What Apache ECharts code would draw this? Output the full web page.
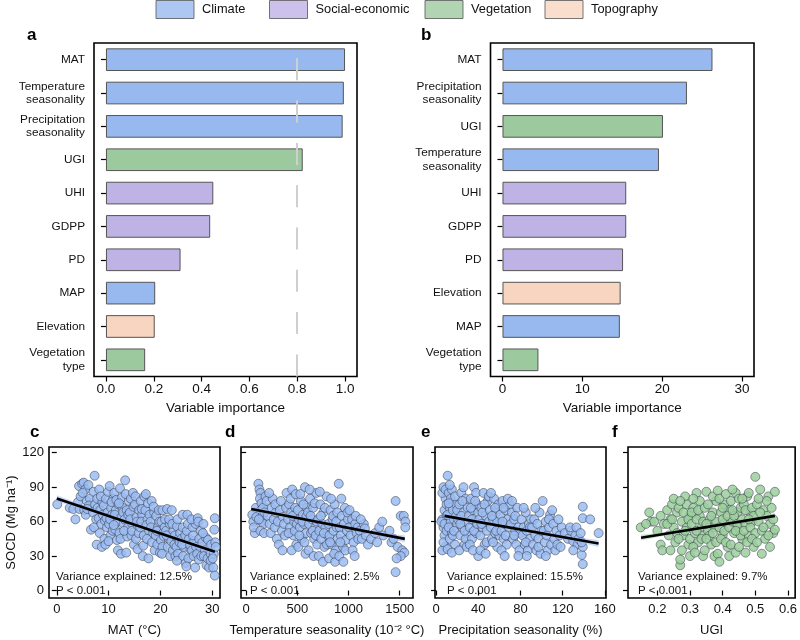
<!DOCTYPE html>
<html><head><meta charset="utf-8">
<script src="https://cdn.jsdelivr.net/npm/echarts@6/dist/echarts.min.js"></script>
<style>html,body{margin:0;padding:0;background:#fff}#c{width:800px;height:640px}</style>
</head><body><div id="c"></div>
<script>
// ---------- data ----------
const groups = ['Climate','Social-economic','Vegetation','Topography'];

const aLabels = ['MAT','Temperature\nseasonality','Precipitation\nseasonality','UGI','UHI','GDPP','PD','MAP','Elevation','Vegetation\ntype'];
const aValues = [1.0,0.995,0.99,0.823,0.449,0.436,0.312,0.206,0.204,0.164];
const aGroups = ['Climate','Climate','Climate','Vegetation','Social-economic','Social-economic','Social-economic','Climate','Topography','Vegetation'];
const aThreshold = 0.8;
const aTicks = [0,0.2,0.4,0.6,0.8,1.0];

const bLabels = ['MAT','Precipitation\nseasonality','UGI','Temperature\nseasonality','UHI','GDPP','PD','Elevation','MAP','Vegetation\ntype'];
const bValues = [26.3,23.1,20.1,19.6,15.5,15.5,15.1,14.8,14.7,4.5];
const bGroups = ['Climate','Climate','Vegetation','Climate','Social-economic','Social-economic','Social-economic','Topography','Climate','Vegetation'];
const bTicks = [0,10,20,30];

const socdTicks = [0,30,60,90,120];
const cTicks = [0,10,20,30];
const dTicks = [0,500,1000,1500];
const eTicks = [0,40,80,120,160];
const fTicks = [0.2,0.3,0.4,0.5,0.6];

const cPoints = [[0.1,75],[2.5,72],[3.2,71],[3.6,62],[4.1,77],[4.3,91],[4.6,82],[4.9,93],[4.4,71],
[5.2,94],[5.5,88],[5.0,85],[5.8,78],[5.3,70],[6.1,92],[6.4,80],[6.2,74],[5.6,66],[6.6,53],[5.9,71],
[7.3,100],[7.1,86],[7.4,75],[7.0,68],[7.6,62],[7.8,80],[7.2,55],[7.7,40],[7.9,72],
[8.2,88],[8.4,70],[8.1,63],[8.6,58],[8.8,77],[8.3,50],[8.7,38],[8.9,66],[8.5,82],
[9.1,74],[9.3,61],[9.5,80],[9.7,55],[9.2,45],[9.8,68],[9.4,40],[9.9,86],[9.6,63],
[10.2,91],[10.5,72],[10.1,58],[10.7,66],[10.4,48],[10.9,80],[10.3,62],[10.8,52],[10.6,77],[10.0,43],
[11.1,85],[11.4,70],[11.7,60],[11.3,53],[11.9,75],[11.6,44],[11.2,66],[11.8,35],[11.5,79],[11.0,57],
[12.2,89],[12.5,64],[12.7,72],[12.1,50],[12.9,58],[12.4,32],[12.6,81],[12.3,45],[12.8,68],[12.0,76],
[13.2,96],[13.5,70],[13.7,55],[13.1,62],[13.9,78],[13.4,33],[13.6,47],[13.3,84],[13.8,66],[13.0,52],
[14.3,80],[14.1,68],[14.6,58],[14.8,73],[14.4,48],[14.9,40],[14.2,62],[14.7,85],[14.5,52],
[15.1,75],[15.4,64],[15.7,56],[15.3,45],[15.9,70],[15.6,36],[15.2,82],[15.8,50],[15.5,60],
[16.2,78],[16.5,66],[16.1,55],[16.8,48],[16.4,71],[16.7,39],[16.3,60],[16.9,82],[16.6,30],
[17.2,84],[17.5,62],[17.1,70],[17.8,52],[17.4,45],[17.7,28],[17.3,57],[17.9,66],[17.6,76],
[18.3,78],[18.1,60],[18.6,50],[18.8,68],[18.4,42],[18.9,35],[18.2,55],[18.7,73],
[19.2,65],[19.5,55],[19.1,48],[19.8,60],[19.4,40],[19.7,70],[19.3,52],[19.9,33],
[20.2,60],[20.5,50],[20.1,44],[20.8,55],[20.4,38],[20.7,47],[20.3,32],[20.9,62],[20.4,70],
[21.3,71],[21.1,52],[21.6,45],[21.8,58],[21.4,38],[21.9,30],[21.2,48],[21.7,62],
[22.2,70],[22.5,52],[22.1,43],[22.8,48],[22.4,35],[22.7,40],[22.3,58],[22.9,30],
[23.2,56],[23.5,45],[23.1,38],[23.8,50],[23.4,32],[23.7,42],[23.3,62],[23.2,26],
[24.3,55],[24.1,45],[24.6,38],[24.8,48],[24.4,30],[24.9,24],[24.2,40],[24.3,66],
[25.2,66],[25.5,45],[25.1,52],[25.8,36],[25.4,28],[25.7,40],[25.3,58],[25.0,21],
[26.2,55],[26.5,43],[26.1,35],[26.8,58],[26.4,30],[26.7,20],[26.3,48],[26.9,38],[26.0,62],
[27.2,63],[27.5,45],[27.1,32],[27.8,52],[27.4,27],[27.7,38],[27.3,60],[27.9,30],
[28.3,58],[28.1,42],[28.6,35],[28.8,46],[28.4,30],[28.9,22],[28.2,50],
[29.2,44],[29.5,35],[29.1,28],[29.8,40],[29.4,20],[29.7,32],[29.7,26],
[30.5,63],[30.4,53],[30.6,42],[30.3,32],[30.2,20],[30.5,13],[30.1,28],[30.7,38]];

const dPoints = [[60,66],[70,60],[85,50],[95,72],[100,64],[75,55],
[120,93],[130,88],[140,85],[135,80],[150,76],[145,70],[160,65],[155,60],[170,58],[140,52],[165,72],[180,68],[125,62],[190,82],[175,50],[200,78],
[210,65],[230,58],[250,72],[240,50],[270,62],[260,80],[280,55],[290,68],[225,85],[300,45],[285,75],
[310,60],[330,70],[350,52],[340,78],[360,64],[380,48],[370,58],[390,72],[320,40],[395,85],[355,35],
[410,62],[420,75],[430,55],[440,68],[450,88],[460,48],[470,60],[480,72],[490,40],[415,50],[435,80],[455,65],[475,52],[495,58],[445,35],[485,84],
[505,70],[515,62],[525,55],[535,78],[545,45],[555,66],[565,58],[575,90],[585,50],[595,72],[510,38],[530,84],[550,60],[570,42],[590,65],[520,48],[560,75],[580,32],
[605,68],[615,58],[625,80],[635,50],[645,62],[655,72],[665,45],[675,55],[685,85],[695,40],[610,35],[630,65],[650,52],[670,76],[690,60],[620,88],[660,30],[680,48],
[705,62],[715,52],[725,75],[735,45],[745,58],[755,68],[765,38],[775,55],[785,82],[795,48],[710,30],[730,65],[750,25],[770,72],[790,40],[720,86],[760,50],
[805,58],[815,48],[825,70],[835,40],[845,62],[855,52],[865,75],[875,35],[885,55],[895,45],[810,28],[830,80],[850,65],[870,25],[890,68],[820,42],[860,32],[880,60],
[905,93],[915,55],[925,48],[935,65],[945,38],[955,58],[965,72],[975,44],[985,52],[995,62],[910,30],[930,80],[950,25],[970,35],[990,68],[920,42],
[1005,55],[1020,48],[1035,62],[1050,42],[1065,58],[1080,50],[1095,45],[1010,70],[1040,35],[1070,65],[1090,55],[1060,30],
[1110,52],[1130,45],[1150,58],[1170,48],[1190,40],[1120,62],[1160,54],
[1220,45],[1260,50],[1300,55],[1340,48],[1280,42],[1330,60],
[1400,52],[1420,42],[1460,78],[1480,38],[1510,65],[1540,65],[1555,60],[1525,35],[1545,33],[1460,16],[1510,30],[1440,45],[1555,55],[1470,28]];

const ePoints = [[6,62],[7,55],[8,70],[9,80],[6,85],[8,48],[9,38],[7,90],[10,65],[5,60],[10,75],[6,35],[8,58],[9,88],[10,52],[7,42],
[11,100],[12,85],[13,72],[14,60],[15,50],[11,66],[12,55],[13,45],[14,80],[15,88],[16,70],[17,62],[18,40],[19,75],[20,58],[11,36],[13,92],[16,48],[18,82],[19,65],[12,76],[17,52],[20,70],[15,33],
[21,62],[22,75],[23,48],[24,85],[25,55],[26,68],[27,40],[28,80],[29,60],[30,50],[22,35],[24,65],[26,90],[28,45],[30,72],[23,58],[25,78],[27,52],[29,38],
[31,65],[32,55],[33,80],[34,45],[35,70],[36,90],[37,60],[38,50],[39,75],[40,30],[32,40],[34,62],[36,52],[38,85],[40,68],[33,72],[35,35],[37,78],[39,58],
[41,62],[42,48],[43,72],[44,55],[45,85],[46,40],[47,65],[48,52],[49,78],[50,60],[42,35],[44,68],[46,75],[48,42],[50,82],[43,58],[47,32],
[51,70],[52,55],[53,45],[54,62],[55,80],[56,50],[57,68],[58,38],[59,75],[60,58],[52,85],[54,42],[56,72],[58,60],[60,48],[53,65],[57,52],
[61,66],[62,52],[63,78],[64,45],[65,58],[66,70],[67,40],[68,62],[69,55],[70,75],[62,35],[64,72],[66,48],[68,80],[65,30],[63,60],
[71,58],[72,68],[73,45],[74,62],[75,52],[76,40],[77,72],[78,55],[79,35],[80,50],[72,78],[75,65],[78,30],[74,48],
[81,62],[82,48],[83,55],[84,40],[85,68],[86,52],[87,35],[88,58],[89,45],[90,62],[83,72],[86,30],[89,55],[85,42],
[91,55],[92,40],[93,62],[94,48],[95,35],[96,58],[97,45],[98,68],[99,32],[100,52],[94,72],[97,38],
[101,78],[102,52],[103,42],[104,60],[105,48],[106,35],[107,55],[108,66],[109,40],[110,70],[104,30],[107,62],
[111,58],[112,45],[113,35],[114,52],[115,40],[117,48],[119,55],[116,62],[118,38],
[122,50],[125,45],[128,52],[130,43],[132,48],[134,40],[127,55],[130,35],[133,55],
[139,73],[139,63],[146,62],[154,50],[138,31],[139,23],[135,45],[139,38],[138,42],[137,50]];

const fPoints = [[0.149,55],[0.175,68],[0.18,60],[0.19,60],[0.21,65],[0.20,52],[0.21,40],[0.215,35],[0.22,58],[0.165,58],
[0.23,70],[0.235,48],[0.24,62],[0.245,75],[0.25,55],[0.255,42],[0.26,68],[0.24,35],[0.23,58],[0.25,80],[0.26,50],[0.245,62],
[0.265,72],[0.27,22],[0.27,27],[0.275,60],[0.28,48],[0.285,82],[0.29,55],[0.295,40],[0.30,65],[0.265,45],[0.275,35],[0.28,68],[0.29,75],[0.3,30],[0.285,52],[0.295,62],[0.27,78],[0.3,45],
[0.305,58],[0.31,72],[0.315,50],[0.32,85],[0.325,42],[0.33,65],[0.335,55],[0.34,30],[0.31,38],[0.32,62],[0.33,78],[0.34,48],[0.305,68],[0.315,33],[0.325,70],[0.335,45],[0.34,60],[0.32,52],[0.31,80],
[0.345,72],[0.35,86],[0.355,52],[0.36,62],[0.365,40],[0.37,68],[0.375,55],[0.38,78],[0.345,35],[0.35,58],[0.36,48],[0.37,82],[0.375,30],[0.38,60],[0.355,75],[0.365,65],[0.35,45],[0.37,50],[0.38,42],
[0.385,87],[0.39,55],[0.395,68],[0.40,48],[0.405,75],[0.41,60],[0.415,38],[0.42,70],[0.385,32],[0.39,80],[0.395,45],[0.40,62],[0.405,52],[0.41,84],[0.415,65],[0.42,55],[0.39,25],[0.40,72],[0.41,42],[0.42,30],
[0.425,78],[0.43,60],[0.435,50],[0.44,85],[0.445,68],[0.45,55],[0.455,72],[0.46,45],[0.425,40],[0.43,88],[0.435,65],[0.44,33],[0.445,58],[0.45,80],[0.455,48],[0.46,62],[0.43,70],[0.45,38],[0.44,52],
[0.465,75],[0.47,58],[0.475,82],[0.48,48],[0.485,68],[0.49,60],[0.495,38],[0.50,99],[0.465,52],[0.47,70],[0.475,42],[0.48,85],[0.485,55],[0.49,72],[0.495,65],[0.50,50],[0.47,33],[0.48,62],[0.49,45],[0.46,80],
[0.505,75],[0.51,60],[0.515,88],[0.52,52],[0.525,70],[0.53,45],[0.535,65],[0.54,82],[0.545,58],[0.55,72],[0.555,50],[0.56,86],[0.505,42],[0.515,68],[0.525,55],[0.535,78],[0.545,38],[0.555,62],[0.52,32],[0.54,48],[0.56,53],[0.51,80]];

// fitted lines [x, y] and confidence bands [x, lower, upper]
const cFit = [[0,80.2],[30.5,33.7]];
const dFit = [[50,71],[1550,45]];
const eFit = [[8,65],[154,41]];
const fFit = [[0.15,46],[0.56,65]];
const cBand = [[0,77.5,83],[7.5,67.3,70.5],[15,56.4,58.8],[22.5,44.7,47.9],[30.5,30.8,36.6]];
const dBand = [[50,68.5,73.5],[425,63.7,66.3],[800,57.3,58.7],[1175,49.7,52.3],[1550,42,48]];
const eBand = [[8,62.5,67.5],[44,58.8,61.2],[81,52.3,53.7],[117,45.8,48.2],[154,38,44]];
const fBand = [[0.15,43.5,48.5],[0.25,49.5,51.9],[0.35,54.7,55.9],[0.45,59,61.8],[0.56,62.5,67.5]];

const cNote = 'Variance explained: 12.5%\nP < 0.001';
const dNote = 'Variance explained: 2.5%\nP < 0.001';
const eNote = 'Variance explained: 15.5%\nP < 0.001';
const fNote = 'Variance explained: 9.7%\nP < 0.001';

// ---------- styles ----------
const FONT = 'Liberation Sans, Arial, Helvetica, sans-serif';
const groupColors = {'Climate':'#98B9F0','Social-economic':'#BFB2E5','Vegetation':'#9DC99F','Topography':'#F8D5C0'};
const blueDot = '#9BBCF2', greenDot = '#9CCF9E';
const TXT = '#111';

const chart = echarts.init(document.getElementById('c'), null, {renderer:'canvas'});

const grids = [
  {left:94, top:43, width:263, height:333.5},
  {left:490.5, top:43, width:263.5, height:333.5},
  {left:49, top:447, width:171, height:151},
  {left:241, top:447, width:172, height:151},
  {left:435, top:447, width:171, height:151},
  {left:628, top:447, width:169, height:151}
].map(g => Object.assign(g, {show:true, borderColor:'#000', borderWidth:1.6, backgroundColor:'transparent', containLabel:false}));

const tickStyle = {show:true, length:5, lineStyle:{color:'#000', width:1.2}};

function valX(gi, min, max, ticks, fmt, name, fs, nameGap, labelMargin){
  return {
    gridIndex:gi, type:'value', min:min, max:max,
    axisLine:{show:false}, splitLine:{show:false},
    axisTick:Object.assign({customValues:ticks}, tickStyle),
    axisLabel:{customValues:ticks, formatter:fmt, fontSize:fs, color:TXT, margin:labelMargin, fontFamily:FONT},
    name:name, nameLocation:'middle', nameGap:nameGap,
    nameTextStyle:{fontSize:fs, color:TXT, fontFamily:FONT}
  };
}
function catY(gi, labels){
  return {
    gridIndex:gi, type:'category', data:labels, inverse:true,
    axisLine:{show:false}, splitLine:{show:false},
    axisTick:Object.assign({alignWithLabel:true}, tickStyle),
    axisLabel:{fontSize:11.8, lineHeight:13.5, color:TXT, margin:9, fontFamily:FONT, interval:0}
  };
}
function socdY(gi, showLabels){
  const ax = {
    gridIndex:gi, type:'value', min:-6.5, max:125,
    axisLine:{show:false}, splitLine:{show:false},
    axisTick:Object.assign({customValues:socdTicks}, tickStyle),
    axisLabel:{show:showLabels, customValues:socdTicks, fontSize:13, color:TXT, margin:5, fontFamily:FONT}
  };
  if (showLabels){
    ax.name = 'SOCD (Mg ha\u207B\u00B9)';
    ax.nameLocation = 'middle'; ax.nameGap = 29;
    ax.nameTextStyle = {fontSize:13, color:TXT, fontFamily:FONT};
  }
  return ax;
}

const xAxes = [
  valX(0, -0.05, 1.05, aTicks, v=>v.toFixed(1), 'Variable importance', 13.5, 24, 6),
  valX(1, -1.5, 31.5, bTicks, v=>String(v), 'Variable importance', 13.5, 24, 6),
  valX(2, -1.5, 31.5, cTicks, v=>String(v), 'MAT (\u00B0C)', 13, 26, 5),
  valX(3, -50, 1630, dTicks, v=>String(v), 'Temperature seasonality (10\u207B\u00B2 \u00B0C)', 13, 26, 5),
  valX(4, -1, 161, eTicks, v=>String(v), 'Precipitation seasonality (%)', 13, 26, 5),
  valX(5, 0.11, 0.622, fTicks, v=>v.toFixed(1), 'UGI', 13, 26, 5)
];
const yAxes = [catY(0, aLabels), catY(1, bLabels), socdY(2,true), socdY(3,false), socdY(4,false), socdY(5,false)];

function barSeries(idx, values, grp, extra){
  return Object.assign({
    type:'bar', xAxisIndex:idx, yAxisIndex:idx, barCategoryGap:'32%',
    data: values.map((v,i)=>({value:v, itemStyle:{color:groupColors[grp[i]]}})),
    itemStyle:{borderColor:'#555', borderWidth:1},
    emphasis:{disabled:true}, silent:true
  }, extra||{});
}
function scatterSeries(idx, pts, color){
  return {type:'scatter', xAxisIndex:idx, yAxisIndex:idx, data:pts, symbolSize:9, z:2, silent:true,
    itemStyle:{color:color, opacity:0.85, borderColor:'rgba(50,55,70,0.75)', borderWidth:0.8}};
}
function bandSeries(idx, rows, color){
  return {type:'custom', xAxisIndex:idx, yAxisIndex:idx, data:rows, z:3, silent:true,
    encode:{x:0, y:[1,2]},
    renderItem:(params, api)=>{
      if (params.dataIndex !== 0) return null;
      const up = rows.map(r=>api.coord([r[0], r[2]]));
      const lo = rows.slice().reverse().map(r=>api.coord([r[0], r[1]]));
      return {type:'polygon', shape:{points:up.concat(lo)}, style:{fill:color}};
    }};
}
function fitSeries(idx, pts){
  return {type:'line', xAxisIndex:idx, yAxisIndex:idx, data:pts, z:4, silent:true, showSymbol:false, symbol:'none',
    lineStyle:{color:'#000', width:2.6}};
}

const series = [
  barSeries(0, aValues, aGroups, {markLine:{silent:true, symbol:['none','none'], label:{show:false},
      lineStyle:{color:'#cfcfcf', width:2, type:[22,20.3], dashOffset:27}, data:[{xAxis:aThreshold}]}}),
  barSeries(1, bValues, bGroups),
  scatterSeries(2, cPoints, blueDot), bandSeries(2, cBand, 'rgba(160,190,240,0.55)'), fitSeries(2, cFit),
  scatterSeries(3, dPoints, blueDot), bandSeries(3, dBand, 'rgba(160,190,240,0.55)'), fitSeries(3, dFit),
  scatterSeries(4, ePoints, blueDot), bandSeries(4, eBand, 'rgba(160,190,240,0.55)'), fitSeries(4, eFit),
  scatterSeries(5, fPoints, greenDot), bandSeries(5, fBand, 'rgba(160,210,165,0.55)'), fitSeries(5, fFit)
];
// legend proxy series
groups.forEach(g => series.push({type:'scatter', name:g, xAxisIndex:2, yAxisIndex:2, data:[], itemStyle:{color:groupColors[g]}}));

const legendLeft = [155.5, 269, 424.5, 544.5];
const legends = groups.map((g,i)=>({
  data:[g], left:legendLeft[i], top:0, padding:0, itemWidth:38, itemHeight:18, icon:'rect', selectedMode:false,
  itemStyle:{borderColor:'#555', borderWidth:1},
  textStyle:{fontSize:12.8, color:TXT, fontFamily:FONT, padding:[0,0,0,3]}
}));

function letter(t, x, y){
  return {type:'text', left:x, top:y, style:{text:t, font:'bold 17px '+FONT, fill:'#000'}};
}
function note(t, x, y){
  return {type:'text', left:x, top:y, style:{text:t, font:'11.5px '+FONT, lineHeight:14, fill:TXT}};
}

chart.setOption({
  animation:false,
  textStyle:{fontFamily:FONT},
  grid:grids, xAxis:xAxes, yAxis:yAxes, series:series, legend:legends,
  graphic:[
    letter('a', 27, 27), letter('b', 421, 27),
    letter('c', 30, 424), letter('d', 225, 424), letter('e', 421, 424), letter('f', 612, 424),
    note(cNote, 56, 570), note(dNote, 250, 570), note(eNote, 447, 570), note(fNote, 638, 570)
  ]
});
</script></body></html>
